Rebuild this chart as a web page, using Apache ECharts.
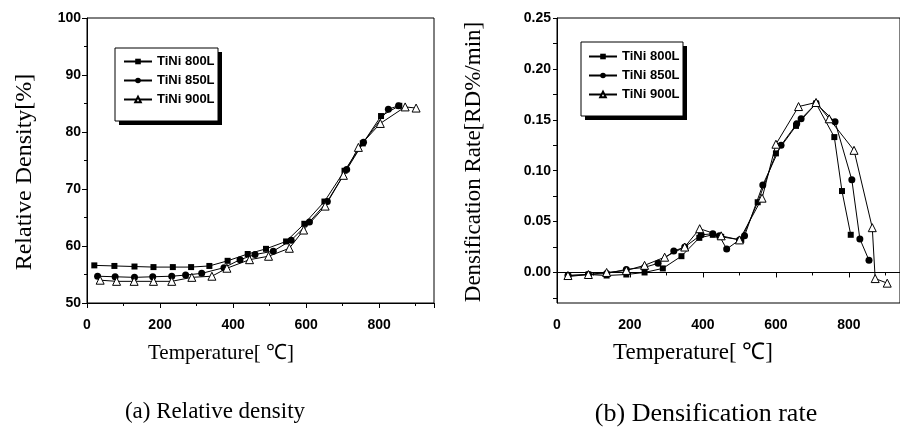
<!DOCTYPE html>
<html>
<head>
<meta charset="utf-8">
<script src="https://cdn.jsdelivr.net/npm/echarts@6/dist/echarts.min.js"></script>
<style>
  html, body { margin: 0; padding: 0; background: #fff; }
  #chart { width: 900px; height: 438px; }
</style>
</head>
<body>
<div id="chart"></div>
<script>
// (a) relative density [%] vs temperature [C]
const tempA800 = [20, 75, 130, 182, 235, 285, 335, 385, 440, 490, 545, 595, 650, 705, 755, 805, 855]
const densA800 = [56.6, 56.5, 56.4, 56.3, 56.3, 56.3, 56.5, 57.4, 58.6, 59.5, 60.8, 63.9, 67.8, 73.2, 78.0, 82.8, 84.6]
const tempA850 = [29, 77, 130, 180, 232, 270, 314, 375, 419, 460, 510, 559, 609, 658, 711, 757, 825, 853]
const densA850 = [54.7, 54.6, 54.5, 54.6, 54.7, 54.9, 55.2, 56.2, 57.6, 58.5, 59.1, 61.0, 64.2, 67.8, 73.4, 78.2, 84.0, 84.6]
const tempA900 = [36, 81, 129, 182, 232, 287, 342, 383, 445, 497, 554, 593, 652, 702, 743, 803, 871, 901]
const densA900 = [54.0, 53.8, 53.8, 53.8, 53.8, 54.5, 54.7, 56.1, 57.6, 58.2, 59.6, 62.8, 67.0, 72.4, 77.3, 81.5, 84.4, 84.2]

// (b) densification rate [RD%/min] vs temperature [C]
const tempB800 = [31, 86, 136, 190, 240, 290, 341, 390, 427, 450, 505, 550, 600, 655, 710, 760, 781, 805]
const rateB800 = [-0.004, -0.002, -0.003, -0.002, 0.000, 0.004, 0.016, 0.034, 0.037, 0.035, 0.032, 0.069, 0.117, 0.144, 0.166, 0.133, 0.080, 0.037]
const tempB850 = [30, 86, 136, 190, 240, 277, 320, 350, 395, 427, 445, 465, 500, 514, 564, 614, 657, 669, 710, 762, 808, 830, 855]
const rateB850 = [-0.003, -0.002, -0.001, 0.003, 0.005, 0.009, 0.021, 0.025, 0.037, 0.038, 0.036, 0.023, 0.032, 0.036, 0.086, 0.125, 0.146, 0.151, 0.166, 0.148, 0.091, 0.033, 0.012]
const tempB900 = [30, 86, 136, 190, 240, 295, 350, 391, 450, 500, 562, 600, 662, 710, 746, 814, 864, 872, 905]
const rateB900 = [-0.003, -0.002, 0.000, 0.002, 0.007, 0.015, 0.025, 0.043, 0.036, 0.032, 0.073, 0.126, 0.163, 0.167, 0.151, 0.120, 0.044, -0.006, -0.0105]

const seriesNames = ['TiNi 800L', 'TiNi 850L', 'TiNi 900L']
const rateLabels = [0, 0.05, 0.1, 0.15, 0.2, 0.25]
const rateTicks = [-0.025, 0, 0.025, 0.05, 0.075, 0.1, 0.125, 0.15, 0.175, 0.2, 0.225, 0.25]

const pairs = (xs, ys) => xs.map((x, i) => [x, ys[i]])

const markers = [
    { symbol: 'rect', symbolSize: 6, itemStyle: { color: '#000' } },
    { symbol: 'circle', symbolSize: 7, itemStyle: { color: '#000' } },
    { symbol: 'triangle', symbolSize: 8, itemStyle: { color: '#fff', borderColor: '#000', borderWidth: 1 } },
]

const makeSeries = (name, idx, data, axis) => ({
    name,
    type: 'line',
    xAxisIndex: axis,
    yAxisIndex: axis,
    symbol: markers[idx].symbol,
    symbolSize: markers[idx].symbolSize,
    showAllSymbol: true,
    itemStyle: markers[idx].itemStyle,
    lineStyle: { color: '#000', width: 1 },
    emphasis: { disabled: true },
    data,
})

const tickFont = { color: '#000', fontFamily: 'Liberation Sans', fontWeight: 'bold', fontSize: 14 }
const serif = 'Liberation Serif'

const xAxisBase = {
    type: 'value',
    min: 0,
    interval: 200,
    axisLine: { lineStyle: { color: '#000', width: 1 } },
    axisTick: { length: 5, lineStyle: { color: '#000' } },
    minorTick: { show: true, splitNumber: 2, length: 3, lineStyle: { color: '#000' } },
    splitLine: { show: false },
    axisLabel: { ...tickFont, margin: 15, showMaxLabel: false },
}

const legendBase = {
    orient: 'vertical',
    z: 10,
    padding: 0,
    itemGap: 6,
    itemWidth: 28,
    itemHeight: 7,
    selectedMode: false,
    textStyle: { color: '#000', fontFamily: 'Liberation Sans', fontWeight: 'bold', fontSize: 13 },
    data: seriesNames,
}

// legend frame with a hard drop shadow, as in the scanned figure
const legendFrame = (x, y, w, h) => [
    { type: 'rect', z: 1, shape: { x: x + 4, y: y + 4, width: w, height: h }, style: { fill: '#000' } },
    { type: 'rect', z: 2, shape: { x, y, width: w, height: h }, style: { fill: '#fff', stroke: '#000', lineWidth: 1 } },
]

const chart = echarts.init(document.getElementById('chart'))

chart.setOption({
    backgroundColor: '#fff',
    animation: false,
    grid: [
        { left: 87, top: 18, width: 347, height: 285, show: true, borderColor: '#000', borderWidth: 1, backgroundColor: 'transparent' },
        { left: 557, top: 18, width: 344, height: 285, show: true, borderColor: '#000', borderWidth: 1, backgroundColor: 'transparent' },
    ],
    legend: [
        { ...legendBase, left: 123, top: 55 },
        { ...legendBase, left: 588, top: 50 },
    ],
    xAxis: [
        { ...xAxisBase, gridIndex: 0, max: 950 },
        { ...xAxisBase, gridIndex: 1, max: 940 },
    ],
    yAxis: [
        {
            type: 'value',
            gridIndex: 0,
            min: 50,
            max: 100,
            interval: 10,
            axisLine: { show: true, lineStyle: { color: '#000', width: 1 } },
            axisTick: { show: true, length: 5, lineStyle: { color: '#000' } },
            minorTick: { show: true, splitNumber: 2, length: 3, lineStyle: { color: '#000' } },
            splitLine: { show: false },
            axisLabel: { ...tickFont, margin: 6 },
        },
        {
            type: 'value',
            gridIndex: 1,
            min: -0.03,
            max: 0.25,
            axisLine: { show: true, lineStyle: { color: '#000', width: 1 } },
            axisTick: { show: true, length: 4, customValues: rateTicks, lineStyle: { color: '#000' } },
            splitLine: { show: false },
            axisLabel: { ...tickFont, margin: 6, customValues: rateLabels, formatter: v => v.toFixed(2) },
        },
    ],
    graphic: [
        ...legendFrame(115, 48, 103, 73),
        ...legendFrame(581, 42, 102, 74),
        { type: 'text', x: 25, y: 172, rotation: Math.PI / 2, style: { text: 'Relative Density[%]', fontFamily: serif, fontSize: 24, fill: '#000', align: 'center', verticalAlign: 'middle' } },
        { type: 'text', x: 474, y: 162, rotation: Math.PI / 2, style: { text: 'Densification Rate[RD%/min]', fontFamily: serif, fontSize: 23, fill: '#000', align: 'center', verticalAlign: 'middle' } },
        { type: 'text', x: 221, y: 353, style: { text: 'Temperature[ ℃]', fontFamily: serif, fontSize: 21, fill: '#000', align: 'center', verticalAlign: 'middle' } },
        { type: 'text', x: 693, y: 353, style: { text: 'Temperature[ ℃]', fontFamily: serif, fontSize: 23, fill: '#000', align: 'center', verticalAlign: 'middle' } },
        { type: 'text', x: 215, y: 412, style: { text: '(a) Relative density', fontFamily: serif, fontSize: 23, fill: '#000', align: 'center', verticalAlign: 'middle' } },
        { type: 'text', x: 706, y: 414, style: { text: '(b) Densification rate', fontFamily: serif, fontSize: 26, fill: '#000', align: 'center', verticalAlign: 'middle' } },
    ],
    series: [
        makeSeries(seriesNames[0], 0, pairs(tempA800, densA800), 0),
        makeSeries(seriesNames[1], 1, pairs(tempA850, densA850), 0),
        makeSeries(seriesNames[2], 2, pairs(tempA900, densA900), 0),
        makeSeries(seriesNames[0], 0, pairs(tempB800, rateB800), 1),
        makeSeries(seriesNames[1], 1, pairs(tempB850, rateB850), 1),
        makeSeries(seriesNames[2], 2, pairs(tempB900, rateB900), 1),
    ],
})
</script>
</body>
</html>
